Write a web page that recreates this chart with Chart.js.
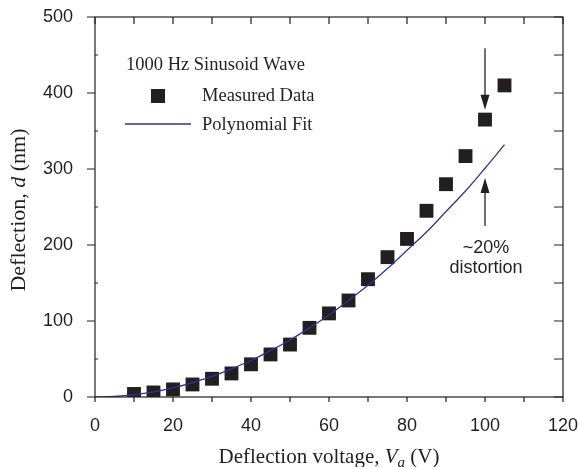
<!DOCTYPE html>
<html>
<head>
<meta charset="utf-8">
<script src="https://cdn.jsdelivr.net/npm/chart.js@4.4.1/dist/chart.umd.min.js"></script>
<style>
  html, body { margin: 0; padding: 0; background: #fff; }
  #chart { display: block; }
</style>
</head>
<body>
<canvas id="chart" width="578" height="467"></canvas>
<script>
// 測定データ（読み取り値）
const voltages = [10, 15, 20, 25, 30, 35, 40, 45, 50, 55, 60, 65, 70, 75, 80, 85, 90, 95, 100, 105];
const measured = [4, 6, 10, 16.5, 24, 31, 43, 56, 69, 91, 110, 127, 155, 184, 208, 245, 280, 317, 365, 410];

// 多項式フィット曲線
const fitVoltages = [0, 5, 10, 15, 20, 25, 30, 35, 40, 45, 50, 55, 60, 65, 70, 75, 80, 85, 90, 95, 100, 105];
const fitValues = [0, 0.7, 3, 6.7, 12, 19, 27, 37, 48, 61, 75, 91, 108, 127, 147, 169, 193, 217, 244, 271, 301, 332];

// 目盛り
const xTicks = [0, 20, 40, 60, 80, 100, 120];
const yTicks = [0, 100, 200, 300, 400, 500];

const ink = '#231f20';
const fitColor = '#2b3597';
const serif = '"Liberation Serif", "Times New Roman", serif';
const sans = '"Liberation Sans", Arial, sans-serif';

// 枠と目盛り線を描くプラグイン
const framePlugin = {
    id: 'frame',
    afterDraw(chart) {
        const ctx = chart.ctx;
        const a = chart.chartArea;
        const xs = chart.scales.x;
        const ys = chart.scales.y;
        ctx.save();
        ctx.strokeStyle = ink;
        ctx.lineWidth = 1.2;
        ctx.strokeRect(a.left, a.top, a.right - a.left, a.bottom - a.top);
        ctx.beginPath();
        for (let v = 0; v <= 120; v += 10) {
            const px = xs.getPixelForValue(v);
            ctx.moveTo(px, a.bottom);
            ctx.lineTo(px, a.bottom + 5);
            ctx.moveTo(px, a.top);
            ctx.lineTo(px, a.top + 7);
        }
        for (let v = 0; v <= 500; v += 50) {
            const py = ys.getPixelForValue(v);
            if (v % 100 === 0) {
                ctx.moveTo(a.left - 8, py);
                ctx.lineTo(a.left, py);
            } else {
                ctx.moveTo(a.left, py);
                ctx.lineTo(a.left + 3, py);
            }
            ctx.moveTo(a.right, py);
            ctx.lineTo(a.right - 9, py);
        }
        ctx.stroke();
        ctx.restore();
    }
};

// 軸ラベル・凡例・注釈
const labelPlugin = {
    id: 'labels',
    afterDraw(chart) {
        const ctx = chart.ctx;
        const xs = chart.scales.x;
        const ys = chart.scales.y;
        ctx.save();
        ctx.fillStyle = ink;
        ctx.textBaseline = 'alphabetic';

        // x軸ラベル
        const parts = [
            { t: 'Deflection voltage, ', f: '21px ' + serif, dy: 0 },
            { t: 'V', f: 'italic 21px ' + serif, dy: 0 },
            { t: 'a', f: 'italic 15px ' + serif, dy: 4 },
            { t: ' (V)', f: '21px ' + serif, dy: 0 }
        ];
        let total = 0;
        parts.forEach(p => { ctx.font = p.f; total += ctx.measureText(p.t).width; });
        let x = 329 - total / 2;
        parts.forEach(p => {
            ctx.font = p.f;
            ctx.fillText(p.t, x, 463 + p.dy);
            x += ctx.measureText(p.t).width;
        });

        // y軸ラベル
        const yparts = [
            { t: 'Deflection, ', f: '22px ' + serif },
            { t: 'd', f: 'italic 22px ' + serif },
            { t: ' (nm)', f: '22px ' + serif }
        ];
        ctx.save();
        ctx.translate(25, 210);
        ctx.rotate(-Math.PI / 2);
        total = 0;
        yparts.forEach(p => { ctx.font = p.f; total += ctx.measureText(p.t).width; });
        x = -total / 2;
        yparts.forEach(p => {
            ctx.font = p.f;
            ctx.fillText(p.t, x, 0);
            x += ctx.measureText(p.t).width;
        });
        ctx.restore();

        // 凡例
        ctx.textBaseline = 'middle';
        ctx.font = '18.5px ' + serif;
        ctx.fillText('1000 Hz Sinusoid Wave', 126, 65);
        ctx.fillRect(151, 89, 14, 14);
        ctx.fillText('Measured Data', 202, 96);
        ctx.strokeStyle = fitColor;
        ctx.lineWidth = 1.3;
        ctx.beginPath();
        ctx.moveTo(125, 124);
        ctx.lineTo(191, 124);
        ctx.stroke();
        ctx.fillText('Polynomial Fit', 202, 125);

        // 矢印と注釈
        const ax = xs.getPixelForValue(100);
        ctx.strokeStyle = ink;
        ctx.lineWidth = 1.3;
        const arrow = (y0, y1) => {
            const p0 = ys.getPixelForValue(y0);
            const p1 = ys.getPixelForValue(y1);
            const dir = p1 > p0 ? 1 : -1;
            ctx.beginPath();
            ctx.moveTo(ax, p0);
            ctx.lineTo(ax, p1 - dir * 12);
            ctx.stroke();
            ctx.beginPath();
            ctx.moveTo(ax, p1);
            ctx.lineTo(ax - 4.5, p1 - dir * 15);
            ctx.lineTo(ax + 4.5, p1 - dir * 15);
            ctx.closePath();
            ctx.fill();
        };
        arrow(459, 378);
        arrow(225, 288);

        ctx.textAlign = 'center';
        ctx.font = '18px ' + sans;
        ctx.fillText('~20%', ax + 1, ys.getPixelForValue(196));
        ctx.fillText('distortion', ax + 1, ys.getPixelForValue(170));
        ctx.restore();
    }
};

// ラベルのはみ出し分の余白を消す
function noPadding(s) {
    s.paddingTop = 0;
    s.paddingBottom = 0;
    s.paddingLeft = 0;
    s.paddingRight = 0;
}

const ctx = document.getElementById('chart').getContext('2d');
const chart = new Chart(ctx, {
    type: 'scatter',
    data: {
        datasets: [{
            label: 'Polynomial Fit',
            data: fitVoltages.map((v, i) => ({ x: v, y: fitValues[i] })),
            showLine: true,
            borderColor: fitColor,
            borderWidth: 1.3,
            pointRadius: 0,
            cubicInterpolationMode: 'monotone',
            fill: false
        }, {
            label: 'Measured Data',
            data: voltages.map((v, i) => ({ x: v, y: measured[i] })),
            pointStyle: 'rect',
            pointRadius: 9.8,
            pointHoverRadius: 9.8,
            pointBorderWidth: 0,
            backgroundColor: ink,
            borderColor: ink
        }]
    },
    options: {
        responsive: false,
        animation: false,
        devicePixelRatio: 1,
        layout: { padding: { top: 17, right: 15, left: 0, bottom: 0 } },
        plugins: {
            legend: { display: false },
            tooltip: { enabled: false }
        },
        scales: {
            x: {
                type: 'linear',
                min: 0,
                max: 120,
                afterFit: s => { s.height = 70; noPadding(s); },
                afterBuildTicks: s => { s.ticks = xTicks.map(v => ({ value: v })); },
                grid: { display: false, drawTicks: false },
                border: { display: false },
                ticks: { padding: 18, color: ink, font: { family: sans, size: 18 } }
            },
            y: {
                type: 'linear',
                min: 0,
                max: 500,
                afterFit: s => { s.width = 95; noPadding(s); },
                afterBuildTicks: s => { s.ticks = yTicks.map(v => ({ value: v })); },
                grid: { display: false, drawTicks: false },
                border: { display: false },
                ticks: { padding: 22, color: ink, font: { family: sans, size: 18 } }
            }
        }
    },
    plugins: [framePlugin, labelPlugin]
});
</script>
</body>
</html>
